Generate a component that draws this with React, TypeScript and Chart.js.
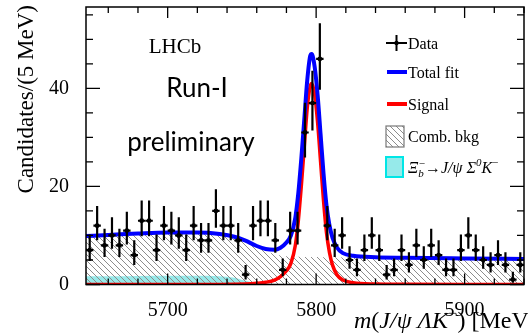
import React, { useEffect, useRef } from "react";
import { Chart, registerables } from "chart.js";

Chart.register(...registerables);

// ---- axis ranges and tick labels ----
const massMin = 5645;
const massMax = 5940;
const countMax = 56.6;
const xTickLabels = [5700, 5800, 5900];
const yTickLabels = [0, 20, 40];

// ---- data histogram (5 MeV bins) ----
const binCenters = [
  5647.5, 5652.5, 5657.5, 5662.5, 5667.5, 5672.5, 5677.5, 5682.5, 5687.5, 5692.5,
  5697.5, 5702.5, 5707.5, 5712.5, 5717.5, 5722.5, 5727.5, 5732.5, 5737.5, 5742.5,
  5747.5, 5752.5, 5757.5, 5762.5, 5767.5, 5772.5, 5777.5, 5782.5, 5787.5, 5792.5,
  5797.5, 5802.5, 5807.5, 5812.5, 5817.5, 5822.5, 5827.5, 5832.5, 5837.5, 5842.5,
  5847.5, 5852.5, 5857.5, 5862.5, 5867.5, 5872.5, 5877.5, 5882.5, 5887.5, 5892.5,
  5897.5, 5902.5, 5907.5, 5912.5, 5917.5, 5922.5, 5927.5, 5932.5, 5937.5,
];
const candidates = [
  7, 12, 8, 10, 8, 11, 6, 13, 13, 7,
  12, 11, 10, 7, 12, 9, 9, 15, 12, 12,
  9, 2, 12, 13, 13, 9, 3, 11, 11, 31,
  37, 46, 12, 8, 10, 5, 3, 7, 10, 7,
  2, 3, 7, 4, 8, 5, 8, 6, 3, 3,
  7, 10, 7, 5, 4, 6, 4, 1, 4,
];

// ---- fit curves, read at these masses ----
const fitMass = [
  5645, 5660, 5680, 5700, 5720, 5735, 5745, 5752, 5760, 5766,
  5772, 5776, 5780, 5783, 5786, 5788, 5790, 5792, 5794, 5796,
  5797, 5799, 5801, 5803, 5805, 5807, 5809, 5811, 5814, 5818,
  5825, 5840, 5860, 5900, 5940,
];
const totalFit = [
  9.9, 10.1, 10.4, 10.6, 10.6, 10.3, 9.75, 9.0, 7.85, 7.25,
  7.1, 7.5, 8.55, 10.0, 13.65, 18.65, 25.6, 33.6, 41.6, 46.6,
  47.0, 44.4, 38.6, 30.6, 22.55, 16.05, 12.05, 9.55, 7.55, 6.4,
  5.85, 5.55, 5.44, 5.31, 5.2,
];
const signalFit = [
  0, 0, 0, 0, 0, 0.02, 0.05, 0.1, 0.25, 0.45,
  0.9, 1.6, 2.8, 4.3, 8, 13, 20, 28, 36, 40.4,
  41, 38.8, 33, 25, 17, 10.5, 6.5, 4.0, 2.0, 0.9,
  0.35, 0.1, 0.04, 0.01, 0,
];
const combBkg = [
  9.9, 10.1, 10.4, 10.6, 10.6, 10.3, 9.7, 8.9, 7.6, 6.8,
  6.2, 5.9, 5.75, 5.7, 5.65, 5.65, 5.6, 5.6, 5.6, 5.6,
  5.6, 5.6, 5.6, 5.6, 5.55, 5.55, 5.55, 5.55, 5.55, 5.5,
  5.5, 5.45, 5.4, 5.3, 5.2,
];
const partialReco = [
  1.7, 1.7, 1.75, 1.8, 1.8, 1.7, 1.4, 0.8, 0.25, 0.05,
  0, 0, 0, 0, 0, 0, 0, 0, 0, 0,
  0, 0, 0, 0, 0, 0, 0, 0, 0, 0,
  0, 0, 0, 0, 0,
];

const legendLabels = ["Data", "Total fit", "Signal", "Comb. bkg"];

const SERIF = "'Liberation Serif', 'DejaVu Serif', serif";
const SANS = "Lato, 'Open Sans', sans-serif";

type Part = { t: string; size: number; italic?: boolean; dy?: number; dx?: number };

function drawRich(ctx: CanvasRenderingContext2D, x: number, y: number, parts: Part[]) {
  let cx = x;
  ctx.textAlign = "left";
  ctx.textBaseline = "alphabetic";
  for (const p of parts) {
    ctx.font = `${p.italic ? "italic " : ""}${p.size}px ${SERIF}`;
    const px = cx + (p.dx || 0);
    ctx.fillText(p.t, px, y + (p.dy || 0));
    cx = px + ctx.measureText(p.t).width;
  }
}

function makePoints(xs: number[], ys: number[]) {
  return xs.map((x, i) => ({ x, y: ys[i] }));
}

export default function App() {
  const ref = useRef<HTMLCanvasElement>(null);

  useEffect(() => {
    document.body.style.margin = "0";
    const canvas = ref.current!;
    const ctx0 = canvas.getContext("2d")!;

    // hatch pattern for combinatorial background
    const pc = document.createElement("canvas");
    pc.width = 6;
    pc.height = 6;
    const p = pc.getContext("2d")!;
    p.strokeStyle = "rgb(140,140,140)";
    p.lineWidth = 1;
    p.beginPath();
    p.moveTo(-1, -1);
    p.lineTo(7, 7);
    p.moveTo(-1, 5);
    p.lineTo(1, 7);
    p.moveTo(5, -1);
    p.lineTo(7, 1);
    p.stroke();
    const hatch = ctx0.createPattern(pc, "repeat")!;

    const cyanFill = "rgb(150,234,234)";

    const decor = {
      id: "decor",
      afterDatasetsDraw(chart: any) {
        const { ctx, chartArea } = chart;
        const xs = chart.scales.x;
        const ys = chart.scales.y;
        ctx.save();
        ctx.beginPath();
        ctx.rect(chartArea.left, chartArea.top, chartArea.right - chartArea.left, chartArea.bottom - chartArea.top);
        ctx.clip();
        ctx.strokeStyle = "#000";
        ctx.lineWidth = 2.2;
        binCenters.forEach((m, i) => {
          const n = candidates[i];
          const up = 0.5 + Math.sqrt(n + 0.25);
          const lo = -0.5 + Math.sqrt(n + 0.25);
          const px = xs.getPixelForValue(m);
          const py = ys.getPixelForValue(n);
          ctx.beginPath();
          ctx.moveTo(px, ys.getPixelForValue(n + up));
          ctx.lineTo(px, ys.getPixelForValue(Math.max(0, n - lo)));
          ctx.moveTo(xs.getPixelForValue(m - 2.5), py);
          ctx.lineTo(xs.getPixelForValue(m + 2.5), py);
          ctx.stroke();
        });
        ctx.restore();
      },
      afterDraw(chart: any) {
        const { ctx, chartArea } = chart;
        const { left, right, top, bottom } = chartArea;
        const xs = chart.scales.x;
        const ys = chart.scales.y;
        ctx.save();
        ctx.strokeStyle = "#000";
        ctx.fillStyle = "#000";
        // frame
        ctx.lineWidth = 1.5;
        ctx.strokeRect(left, top, right - left, bottom - top);
        // ticks
        ctx.lineWidth = 1.3;
        ctx.beginPath();
        xs.ticks.forEach((t: any) => {
          const px = xs.getPixelForValue(t.value);
          const len = t.value % 100 === 0 ? 11 : 6;
          ctx.moveTo(px, bottom);
          ctx.lineTo(px, bottom - len);
          ctx.moveTo(px, top);
          ctx.lineTo(px, top + len);
        });
        ys.ticks.forEach((t: any) => {
          const py = ys.getPixelForValue(t.value);
          const len = t.value % 20 === 0 ? 14 : 7;
          ctx.moveTo(left, py);
          ctx.lineTo(left + len, py);
          ctx.moveTo(right, py);
          ctx.lineTo(right - len, py);
        });
        ctx.stroke();

        // y title
        ctx.save();
        ctx.translate(33, 5);
        ctx.rotate(-Math.PI / 2);
        ctx.font = `23px ${SERIF}`;
        ctx.textAlign = "right";
        ctx.textBaseline = "alphabetic";
        ctx.fillText("Candidates/(5 MeV)", 0, 0);
        ctx.restore();

        // x title
        drawRich(ctx, 354, 328, [
          { t: "m", size: 24, italic: true },
          { t: "(", size: 24 },
          { t: "J/\u03C8 \u039BK", size: 24, italic: true },
          { t: "\u2212", size: 15, dy: -10 },
          { t: ")", size: 24, dx: 1 },
          { t: " [MeV]", size: 24 },
        ]);

        // labels on plot
        ctx.textAlign = "center";
        ctx.textBaseline = "alphabetic";
        ctx.font = `21px ${SERIF}`;
        ctx.fillText("LHCb", 175, 53);
        ctx.font = `26px ${SANS}`;
        ctx.fillText("Run-I", 197, 97);
        ctx.fillText("preliminary", 191, 151);

        // legend
        const lx0 = 386;
        const tx = 408;
        ctx.font = `16px ${SERIF}`;
        ctx.textAlign = "left";
        // Data
        ctx.lineWidth = 2;
        ctx.beginPath();
        ctx.moveTo(lx0, 43);
        ctx.lineTo(lx0 + 21, 43);
        ctx.moveTo(lx0 + 10.5, 35);
        ctx.lineTo(lx0 + 10.5, 51);
        ctx.stroke();
        ctx.beginPath();
        ctx.arc(lx0 + 10.5, 43, 2.2, 0, Math.PI * 2);
        ctx.fill();
        ctx.fillText(legendLabels[0], tx, 49);
        // Total fit
        ctx.lineWidth = 4;
        ctx.strokeStyle = "rgb(0,0,255)";
        ctx.beginPath();
        ctx.moveTo(lx0 + 1, 72);
        ctx.lineTo(lx0 + 21, 72);
        ctx.stroke();
        ctx.fillText(legendLabels[1], tx, 78);
        // Signal
        ctx.strokeStyle = "rgb(255,0,0)";
        ctx.beginPath();
        ctx.moveTo(lx0 + 1, 104);
        ctx.lineTo(lx0 + 21, 104);
        ctx.stroke();
        ctx.fillText(legendLabels[2], tx, 110);
        // Comb. bkg
        ctx.fillStyle = hatch;
        ctx.fillRect(lx0, 126, 18, 21);
        ctx.strokeStyle = "rgb(120,120,120)";
        ctx.lineWidth = 1.2;
        ctx.strokeRect(lx0, 126, 18, 21);
        ctx.fillStyle = "#000";
        ctx.fillText(legendLabels[3], tx, 142);
        // partially reconstructed
        ctx.fillStyle = cyanFill;
        ctx.fillRect(lx0, 157, 17, 20);
        ctx.strokeStyle = "rgb(0,230,230)";
        ctx.lineWidth = 2;
        ctx.strokeRect(lx0, 157, 17, 20);
        ctx.fillStyle = "#000";
        drawRich(ctx, tx, 173, [
          { t: "\u039E", size: 16, italic: true },
          { t: "b", size: 11, italic: true, dy: 4 },
          { t: "\u2212", size: 11, dy: -6, dx: -5 },
          { t: "\u2192", size: 16 },
          { t: "J/\u03C8 \u03A3", size: 16, italic: true },
          { t: "0", size: 11, italic: true, dy: -7 },
          { t: "K", size: 16, italic: true },
          { t: "\u2212", size: 11, dy: -7 },
        ]);
        ctx.restore();
      },
    };

    const chart = new Chart(canvas, {
      type: "line",
      data: {
        datasets: [
          {
            label: "Data",
            data: makePoints(binCenters, candidates),
            showLine: false,
            pointRadius: 2.4,
            pointBackgroundColor: "#000",
            pointBorderWidth: 0,
            order: 0,
          } as any,
          {
            label: "Total fit",
            data: makePoints(fitMass, totalFit),
            borderColor: "rgb(0,0,255)",
            borderWidth: 4,
            pointRadius: 0,
            cubicInterpolationMode: "monotone",
            fill: false,
            order: 1,
          },
          {
            label: "Signal",
            data: makePoints(fitMass, signalFit),
            borderColor: "rgb(255,0,0)",
            borderWidth: 3.5,
            pointRadius: 0,
            cubicInterpolationMode: "monotone",
            fill: false,
            order: 2,
          },
          {
            label: "Comb. bkg",
            data: makePoints(fitMass, combBkg),
            borderWidth: 0,
            borderColor: "rgba(0,0,0,0)",
            backgroundColor: hatch,
            pointRadius: 0,
            cubicInterpolationMode: "monotone",
            fill: "origin",
            order: 3,
          },
          {
            label: "Partial",
            data: makePoints(fitMass, partialReco),
            borderWidth: 0,
            borderColor: "rgba(0,0,0,0)",
            backgroundColor: cyanFill,
            pointRadius: 0,
            cubicInterpolationMode: "monotone",
            fill: "origin",
            order: 4,
          },
        ],
      },
      options: {
        animation: false,
        responsive: false,
        devicePixelRatio: 1,
        layout: { padding: { top: 7, right: 1, left: 0, bottom: 0 } },
        plugins: { legend: { display: false }, tooltip: { enabled: false } },
        scales: {
          x: {
            type: "linear",
            min: massMin,
            max: massMax,
            grid: { display: false },
            border: { display: false },
            ticks: {
              stepSize: 20,
              includeBounds: false,
              autoSkip: false,
              maxRotation: 0,
              padding: 6,
              color: "#000",
              font: { family: SERIF, size: 20 },
              callback: (v: any) => (xTickLabels.includes(Number(v)) ? String(v) : ""),
            },
            afterFit: (s: any) => {
              s.height = 50.5;
              s.paddingLeft = 0;
              s.paddingRight = 0;
            },
          },
          y: {
            type: "linear",
            min: 0,
            max: countMax,
            grid: { display: false },
            border: { display: false },
            ticks: {
              stepSize: 5,
              includeBounds: false,
              autoSkip: false,
              padding: 9,
              color: "#000",
              font: { family: SERIF, size: 20 },
              callback: (v: any) => (yTickLabels.includes(Number(v)) ? String(v) : ""),
            },
            afterFit: (s: any) => {
              s.width = 86;
              s.paddingTop = 0;
              s.paddingBottom = 0;
            },
          },
        },
      },
      plugins: [decor],
    } as any);

    return () => chart.destroy();
  }, []);

  return (
    <div style={{ position: "fixed", left: 0, top: 0, width: 528, height: 335, background: "#fff" }}>
      <canvas ref={ref} width={528} height={335} style={{ display: "block" }} />
    </div>
  );
}
